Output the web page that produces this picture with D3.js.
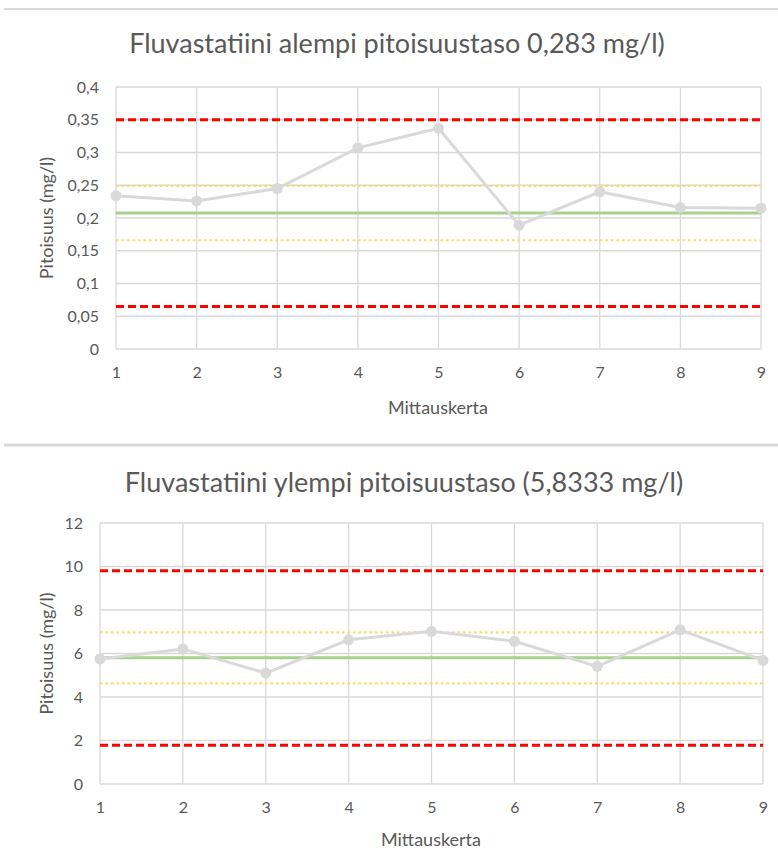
<!DOCTYPE html>
<html>
<head>
<meta charset="utf-8">
<script src="https://cdn.jsdelivr.net/npm/d3@7"></script>
<style>
  body { margin: 0; background: #fff; }
  svg { display: block; font-family: Lato, "Open Sans", sans-serif; }
</style>
</head>
<body>
<svg id="chart" width="778" height="866"></svg>
<script>
// measurement runs (x categories)
const runs = [1, 2, 3, 4, 5, 6, 7, 8, 9];

// lower concentration level (0,283 mg/l)
const lowValues = [0.234, 0.226, 0.245, 0.307, 0.337, 0.189, 0.240, 0.216, 0.215];
const lowMean = 0.2075;
const lowWarn = [0.166, 0.249];
const lowAction = [0.065, 0.350];
const lowTicks = [0, 0.05, 0.1, 0.15, 0.2, 0.25, 0.3, 0.35, 0.4];

// upper concentration level (5,8333 mg/l)
const highValues = [5.75, 6.21, 5.10, 6.63, 7.02, 6.56, 5.41, 7.09, 5.68];
const highMean = 5.80;
const highWarn = [4.63, 6.97];
const highAction = [1.78, 9.81];
const highTicks = [0, 2, 4, 6, 8, 10, 12];

const svg = d3.select("#chart");
const textCol = "#595959", gridCol = "#d9d9d9";
const fmt = d => String(d).replace(".", ",");

// separators between the two chart boxes
svg.append("line").attr("x1", 4).attr("x2", 778).attr("y1", 9).attr("y2", 9)
   .attr("stroke", gridCol).attr("stroke-width", 2);
svg.append("line").attr("x1", 4).attr("x2", 778).attr("y1", 445).attr("y2", 445)
   .attr("stroke", gridCol).attr("stroke-width", 3);

function drawChart(c) {
  const x = d3.scalePoint().domain(runs).range([c.left, c.right]);
  const y = d3.scaleLinear().domain([c.ticks[0], c.ticks[c.ticks.length - 1]]).range([c.bottom, c.top]);
  const g = svg.append("g");

  // title
  g.append("text").attr("x", c.titleX).attr("y", c.titleY)
   .attr("text-anchor", "middle").attr("fill", textCol)
   .style("font-size", "27px").text(c.title);

  // gridlines
  g.append("g").selectAll("line").data(c.ticks).join("line")
   .attr("x1", c.left).attr("x2", c.right)
   .attr("y1", d => y(d)).attr("y2", d => y(d))
   .attr("stroke", gridCol).attr("stroke-width", 1.3);
  g.append("g").selectAll("line").data(runs).join("line")
   .attr("x1", d => x(d)).attr("x2", d => x(d))
   .attr("y1", c.top).attr("y2", c.bottom)
   .attr("stroke", gridCol).attr("stroke-width", 1.3);

  // axes (labels only, lines come from the grid)
  const ya = g.append("g").attr("transform", "translate(" + (c.left - 17) + ",0)")
   .call(d3.axisLeft(y).tickValues(c.ticks).tickFormat(fmt).tickSize(0).tickPadding(0));
  const xa = g.append("g").attr("transform", "translate(0," + (c.bottom + 22) + ")")
   .call(d3.axisBottom(x).tickSize(0).tickPadding(0));
  [ya, xa].forEach(a => {
    a.select(".domain").remove();
    a.selectAll("text").attr("fill", textCol).style("font-size", "16px")
     .style("font-family", "Lato, sans-serif");
  });
  xa.selectAll("text").attr("dy", "0.45em");

  // axis titles
  g.append("text").attr("transform", "translate(" + 47 + "," + (c.top + c.bottom) / 2 + ") rotate(-90)")
   .attr("text-anchor", "middle").attr("dy", "0.35em").attr("fill", textCol)
   .style("font-size", "18px").text("Pitoisuus (mg/l)");
  g.append("text").attr("x", c.xTitleX).attr("y", c.xTitleY)
   .attr("text-anchor", "middle").attr("dy", "0.35em").attr("fill", textCol)
   .style("font-size", "18px").text("Mittauskerta");

  // control limits
  const hline = (v, col, w, dash) => g.append("line")
   .attr("x1", c.left).attr("x2", c.right).attr("y1", y(v)).attr("y2", y(v))
   .attr("stroke", col).attr("stroke-width", w).attr("stroke-dasharray", dash);
  c.warn.forEach(v => hline(v, "#ffd966", 2.2, "2.5,3"));
  hline(c.mean, "#a9d18e", 3, null);
  c.action.forEach(v => hline(v, "#ff0000", 3, "8,4"));

  // measured values
  const pts = runs.map((r, i) => [r, c.values[i]]);
  g.append("path").datum(pts)
   .attr("d", d3.line().x(d => x(d[0])).y(d => y(d[1])))
   .attr("fill", "none").attr("stroke", gridCol).attr("stroke-width", 3);
  g.append("g").selectAll("circle").data(pts).join("circle")
   .attr("cx", d => x(d[0])).attr("cy", d => y(d[1])).attr("r", 5.5)
   .attr("fill", gridCol);
}

drawChart({
  title: "Fluvastatiini alempi pitoisuustaso 0,283 mg/l)",
  titleX: 397, titleY: 53,
  left: 116, right: 761, top: 87, bottom: 349,
  ticks: lowTicks, values: lowValues, mean: lowMean, warn: lowWarn, action: lowAction,
  xTitleX: 438, xTitleY: 408
});

drawChart({
  title: "Fluvastatiini ylempi pitoisuustaso (5,8333 mg/l)",
  titleX: 404, titleY: 492,
  left: 100, right: 763, top: 523, bottom: 784,
  ticks: highTicks, values: highValues, mean: highMean, warn: highWarn, action: highAction,
  xTitleX: 431, xTitleY: 840
});
</script>
</body>
</html>
